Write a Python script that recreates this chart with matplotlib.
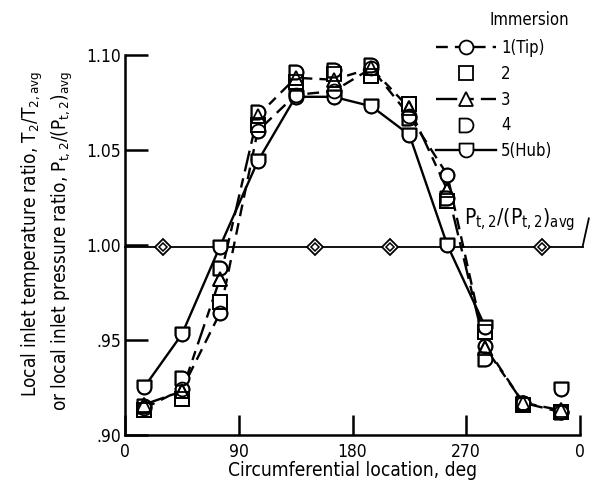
import numpy as np
import matplotlib
matplotlib.use("Agg")
import matplotlib.pyplot as plt
from matplotlib.path import Path
from matplotlib.lines import Line2D

plt.rcParams['font.family'] = ['DejaVu Sans']
plt.rcParams['font.stretch'] = 'condensed'
plt.rcParams['mathtext.fontset'] = 'custom'
plt.rcParams['mathtext.rm'] = 'DejaVu Sans:stretch=condensed'
plt.rcParams['mathtext.it'] = 'DejaVu Sans:stretch=condensed'
plt.rcParams['mathtext.default'] = 'rm'

# ---- data ----
angles = [15, 45, 75, 105, 135, 165, 195, 225, 255, 285, 315, 345]
tip    = [0.914, 0.924, 0.964, 1.060, 1.079, 1.081, 1.093, 1.068, 1.037, 0.947, 0.917, 0.912]
imm2   = [0.913, 0.919, 0.970, 1.063, 1.086, 1.090, 1.089, 1.074, 1.023, 0.954, 0.916, 0.912]
imm3   = [0.916, 0.923, 0.982, 1.068, 1.088, 1.087, 1.093, 1.072, 1.029, 0.946, 0.917, 0.913]
imm4   = [0.915, 0.930, 0.988, 1.070, 1.091, 1.092, 1.095, 1.067, 1.025, 0.940, 0.917, 0.912]
hub    = [0.925, 0.953, 0.999, 1.044, 1.078, 1.078, 1.073, 1.058, 1.000, 0.957, np.nan, 0.924]
pt_angles = [30, 150, 210, 330]
pt_ratio  = [0.999, 0.999, 0.999, 0.999]
labels = ['1(Tip)', '2', '3', '4', '5(Hub)']
xticks = [0, 90, 180, 270, 360]
xticklabels = ['0', '90', '180', '270', '0']
yticks = [0.90, 0.95, 1.00, 1.05, 1.10]
yticklabels = ['.90', '.95', '1.00', '1.05', '1.10']

# ---- custom markers ----
def d_marker():
    arc = Path.arc(-90, 90)
    verts = [(-1, -1), (0, -1)] + list(arc.vertices[1:]) + [(-1, 1), (-1, -1)]
    codes = [Path.MOVETO, Path.LINETO] + list(arc.codes[1:]) + [Path.LINETO, Path.CLOSEPOLY]
    return Path(verts, codes)

def hub_marker():
    arc = Path.arc(180, 360)
    verts = [(-1, 1), (-1, 0)] + list(arc.vertices[1:]) + [(1, 1), (-1, 1)]
    codes = [Path.MOVETO, Path.LINETO] + list(arc.codes[1:]) + [Path.LINETO, Path.CLOSEPOLY]
    return Path(verts, codes)

DM = d_marker()
HM = hub_marker()

fig = plt.figure(figsize=(6.06, 4.92), dpi=100)
ax = fig.add_axes([125/606, 57/492, 455/606, 380/492])

series = [
    (tip,  'o', (0, (5, 3))),
    (imm2, 's', 'none'),
    (imm3, '^', (0, (9, 3, 4, 3))),
    (imm4, DM,  'none'),
    (hub,  HM,  '-'),
]
ms = 10
lw = 1.7
for vals, m, ls in series:
    if ls != 'none':
        ax.plot(angles, vals, color='k', lw=lw, ls=ls, zorder=2)
for vals, m, ls in series:
    ax.plot(angles, vals, ls='none', marker=m, ms=ms, mfc='white', mec='k', mew=1.3, zorder=3)
for vals, m, ls in series:
    ax.plot(angles, vals, ls='none', marker=m, ms=ms, mfc='none', mec='k', mew=1.3, zorder=4)

# pressure ratio line
ax.axhline(pt_ratio[0], color='k', lw=1.3, zorder=1, xmin=0, xmax=1.006, clip_on=False)
ax.plot(pt_angles, pt_ratio, ls='none', marker='D', ms=8, mfc='white', mec='k', mew=1.3, zorder=5)
ax.plot(pt_angles, pt_ratio, ls='none', marker='D', ms=3.8, mfc='white', mec='k', mew=1.1, zorder=6)
ax.plot([362, 367], [pt_ratio[0], 1.014], color='k', lw=1.3, clip_on=False)
ax.text(268, 1.011, r'$P_{t,2}/(P_{t,2})_{avg}$', fontsize=15, ha='left', va='baseline')

ax.set_xlim(0, 360)
ax.set_ylim(0.90, 1.10)
ax.set_xticks(xticks)
ax.set_xticklabels(xticklabels)
ax.set_yticks(yticks)
ax.set_yticklabels(yticklabels)
ax.spines['top'].set_visible(False)
ax.spines['right'].set_visible(False)
for s in ('left', 'bottom'):
    ax.spines[s].set_linewidth(1.8)
ax.tick_params(axis='y', direction='in', length=16.5, width=1.8, pad=3, labelsize=12.5)
ax.tick_params(axis='x', direction='in', length=14.5, width=1.8, pad=6, labelsize=12.5)

ax.set_xlabel('Circumferential location, deg', fontsize=13.8, labelpad=0)

fig.text(37/606, 1 - 234/492, r'Local inlet temperature ratio, $T_2/T_{2,avg}$',
         rotation=90, rotation_mode='anchor', ha='center', va='baseline', fontsize=13.6)
fig.text(67/606, 1 - 241/492, r'or local inlet pressure ratio, $P_{t,2}/(P_{t,2})_{avg}$',
         rotation=90, rotation_mode='anchor', ha='center', va='baseline', fontsize=13.6)

# legend
handles = [
    Line2D([], [], color='k', lw=lw, ls=(0, (5, 3)), marker='o', ms=ms, mfc='white', mec='k', mew=1.3),
    Line2D([], [], ls='none', marker='s', ms=ms, mfc='white', mec='k', mew=1.3),
    Line2D([], [], color='k', lw=lw, ls=(0, (9, 3, 4, 3)), marker='^', ms=ms, mfc='white', mec='k', mew=1.3),
    Line2D([], [], ls='none', marker=DM, ms=ms, mfc='white', mec='k', mew=1.3),
    Line2D([], [], color='k', lw=lw, ls='-', marker=HM, ms=ms, mfc='white', mec='k', mew=1.3),
]
fig.legend(handles, labels, loc='upper left', bbox_to_anchor=(436/606, 1 - 39/492),
           frameon=False, fontsize=12, handlelength=3.6, handletextpad=0.3,
           labelspacing=0.47, borderpad=0, borderaxespad=0)
fig.text(529/606, 1 - 20/492, 'Immersion', ha='center', va='center', fontsize=12)

fig.savefig('out.png', dpi=100)
